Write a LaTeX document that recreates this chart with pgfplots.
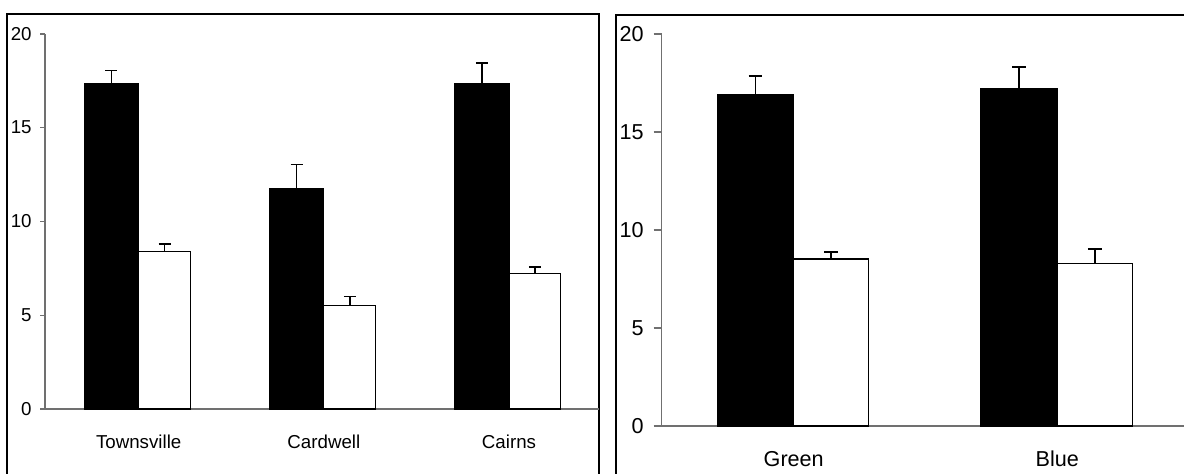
\documentclass[border=0pt]{standalone}
\usepackage{fontspec}
\setmainfont{Liberation Sans}
\usepackage{pgfplots}
\pgfplotsset{compat=1.18}

\definecolor{axisgray}{HTML}{707070}

\pgfplotsset{
  panel/.style={
    scale only axis,
    anchor=south west,
    ymin=0, ymax=20,
    ytick={0,5,10,15,20},
    axis x line*=bottom,
    axis y line*=left,
    axis line style={draw=axisgray, line width=0.6pt, -},
    tick align=outside,
    xtick style={draw=none},
    ytick style={draw=axisgray, line width=0.6pt},
    /pgf/number format/assume math mode=true,
    clip=false,
  },
  % bars are placed at their own x centre (black left of the group, white right)
  blackbar/.style={
    ybar, bar shift=0pt, fill=black, draw=black, line width=0.5pt,
    error bars/y dir=plus, error bars/y explicit,
  },
  whitebar/.style={
    ybar, bar shift=0pt, fill=white, draw=black, line width=0.6pt,
    error bars/y dir=plus, error bars/y explicit,
  },
}

\begin{document}
\begin{tikzpicture}[x=1pt,y=1pt]
\useasboundingbox (0,0) rectangle (592,236.5);
\clip (0,0) rectangle (592,236.5);

% panel frames
\draw[line width=1pt] (3.5,-10) -- (3.5,229.35) -- (299.5,229.35) -- (299.5,-10);
\draw[line width=1pt] (307.8,-10) -- (307.8,229.25) -- (610,229.25);

% left panel: sites
\begin{axis}[panel,
  at={(22.5pt,32pt)},
  width=277pt, height=187.5pt,
  xmin=-0.506, xmax=2.486,
  xtick={0,1,2},
  xticklabels={Townsville,Cardwell,Cairns},
  major tick length=2.5pt,
  ticklabel style={font=\fontsize{9.35}{11}\selectfont},
  yticklabel style={anchor=base east, inner sep=0pt, xshift=-4pt, yshift=-3pt},
  xticklabel style={anchor=base, inner sep=0pt, yshift=-17pt},
  error bars/error bar style={line width=0.8pt, black},
  error bars/error mark options={rotate=90, mark size=3pt, line width=0.8pt, black},
]
\addplot[blackbar, bar width=0.294]
  coordinates {(-0.147,17.35) +- (0,0.70) (0.853,11.77) +- (0,1.28) (1.853,17.35) +- (0,1.09)};
\addplot[whitebar, bar width=0.28]
  coordinates {(0.14,8.41) +- (0,0.39) (1.14,5.53) +- (0,0.46) (2.14,7.22) +- (0,0.36)};
\end{axis}

% right panel: colours
\begin{axis}[panel,
  at={(330.85pt,23.5pt)},
  width=263.6pt, height=196pt,
  xmin=-0.5008, xmax=1.4992,
  xtick={0,1},
  xticklabels={Green,Blue},
  major tick length=4pt,
  ticklabel style={font=\fontsize{10.8}{13}\selectfont},
  yticklabel style={anchor=base east, inner sep=0pt, xshift=-4.85pt, yshift=-3.85pt},
  xticklabel style={anchor=base, inner sep=0pt, yshift=-16pt},
  error bars/error bar style={line width=0.95pt, black},
  error bars/error mark options={rotate=90, mark size=3.4pt, line width=0.95pt, black},
]
\addplot[blackbar, bar width=0.29]
  coordinates {(-0.145,16.92) +- (0,0.95) (0.855,17.24) +- (0,1.09)};
\addplot[whitebar, bar width=0.284]
  coordinates {(0.142,8.52) +- (0,0.36) (1.142,8.28) +- (0,0.77)};
\end{axis}
\end{tikzpicture}
\end{document}
